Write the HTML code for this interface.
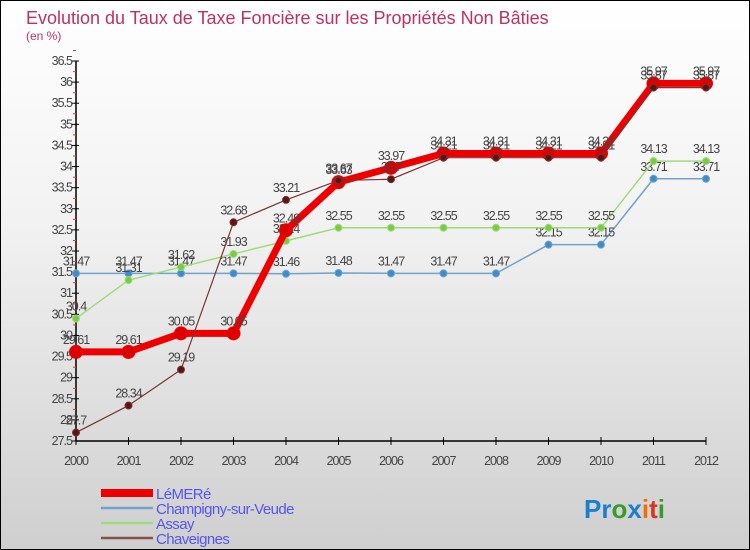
<!DOCTYPE html>
<html><head><meta charset="utf-8"><style>
body{margin:0;}
#wrap{position:relative;width:748px;height:548px;border:1px solid #000;background:linear-gradient(#fff 0%,#f2f2f2 40%,#cfcfcf 100%);font-family:"Liberation Sans",sans-serif;overflow:hidden}
</style></head><body>
<div id="wrap">
<svg id="chart" width="748" height="548" style="position:absolute;left:0;top:0"></svg>
</div>
<script>
const years=["2000","2001","2002","2003","2004","2005","2006","2007","2008","2009","2010","2011","2012"];
const lemere=[29.61,29.61,30.05,30.05,32.49,33.63,33.97,34.31,34.31,34.31,34.31,35.97,35.97];
const champigny=[31.47,31.47,31.47,31.47,31.46,31.48,31.47,31.47,31.47,32.15,32.15,33.71,33.71];
const assay=[30.4,31.31,31.62,31.93,32.24,32.55,32.55,32.55,32.55,32.55,32.55,34.13,34.13];
const chaveignes=[27.7,28.34,29.19,32.68,33.21,33.67,33.7,34.21,34.21,34.21,34.21,35.87,35.87];
const yTicks=["27.5","28","28.5","29","29.5","30","30.5","31","31.5","32","32.5","33","33.5","34","34.5","35","35.5","36","36.5"];
const seriesNames=["LéMERé","Champigny-sur-Veude","Assay","Chaveignes"];
const NS="http://www.w3.org/2000/svg";
const svg=document.getElementById('chart');
const X0=75,X1=705,Y0=440,Y1=60,YMIN=27.5,YMAX=36.5;
function xs(i){return X0+i*(X1-X0)/(years.length-1);}
function ys(v){return Y0-(v-YMIN)*(Y0-Y1)/(YMAX-YMIN);}
function mk(tag,attrs,name){const e=document.createElementNS(NS,tag);for(const k in attrs)e.setAttribute(k,attrs[k]);


svg.appendChild(e);return e;}
function txt(x,y,s,name,opt){const t=mk('text',Object.assign({x:x,y:y,'font-size':12.5,fill:'#444','font-family':'Liberation Sans, sans-serif'},opt||{}),name);t.textContent=s;return t;}
txt(25,23,"Evolution du Taux de Taxe Foncière sur les Propriétés Non Bâties","chart-title",{'font-size':18,fill:'#c0305f'});
txt(25,39,"(en %)","y-axis-unit",{'font-size':12,fill:'#c0305f'});
mk('line',{x1:X0,y1:Y1,x2:X0,y2:Y0,stroke:'#000','stroke-width':1.5},'y-axis');
mk('line',{x1:X0,y1:Y0,x2:X1,y2:Y0,stroke:'#000','stroke-width':1.5},'x-axis');
yTicks.forEach(function(s){const y=ys(parseFloat(s));
mk('line',{x1:X0-4,y1:y,x2:X0+3,y2:y,stroke:'#000'},'y-tick');
mk('line',{x1:X0-3,y1:y-10.5,x2:X0,y2:y-10.5,stroke:'#e33'},'y-minor-tick');
txt(X0-4,y+4,s,'y-tick-label',{'text-anchor':'end','letter-spacing':-1});});
years.forEach(function(s,i){const x=xs(i);
mk('line',{x1:x,y1:Y0-4,x2:x,y2:Y0+4,stroke:'#000'},'x-tick');
txt(x,Y0+24,s,'x-tick-label',{'text-anchor':'middle','letter-spacing':-1});});
function series(data,color,dot,w,r,name){
let d=data.map(function(v,i){return (i?'L':'M')+xs(i)+','+ys(v);}).join(' ');
mk('path',{d:d,fill:'none',stroke:color,'stroke-width':w},name+'-line');
data.forEach(function(v,i){mk('circle',{cx:xs(i),cy:ys(v),r:r,fill:dot,stroke:color,'stroke-width':1},name+'-point');});
data.forEach(function(v,i){txt(xs(i),ys(v)-8,String(v),name+'-value-label',{'text-anchor':'middle','letter-spacing':-1,'font-size':12.5});});
}
series(champigny,'#6fa2cc','#3d8ccc',1.5,3.5,'champigny');
series(assay,'#9edc78','#77cc44',1.5,3.5,'assay');
series(lemere,'#ee0000','#dd0000',7,6.5,'lemere');
series(chaveignes,'#7a3333','#5a1515',1.2,3.5,'chaveignes');
const legColors=['#ee0000','#6fa2cc','#9edc78','#8a5050'];
const legW=[8,2.5,2.5,2.5];
seriesNames.forEach(function(n,i){const y=492+i*15;
mk('line',{x1:100,y1:y,x2:152,y2:y,stroke:legColors[i],'stroke-width':legW[i]},'legend-swatch');
txt(155,y+6,n,'legend-entry',{'font-size':15,fill:'#5555ee','letter-spacing':-0.6});});
const lg=mk('text',{x:583,y:517,'font-size':26,'font-weight':'bold','font-family':'Liberation Sans, sans-serif'},'proxiti-logo');
[['Pr','#1a7fd0'],['o','#3a9a2a'],['x','#1a7fd0'],['i','#f07000'],['t','#e03020'],['i','#3a9a2a']].forEach(function(p){const s=document.createElementNS(NS,'tspan');s.setAttribute('fill',p[1]);s.textContent=p[0];lg.appendChild(s);});
</script>
</body></html>
